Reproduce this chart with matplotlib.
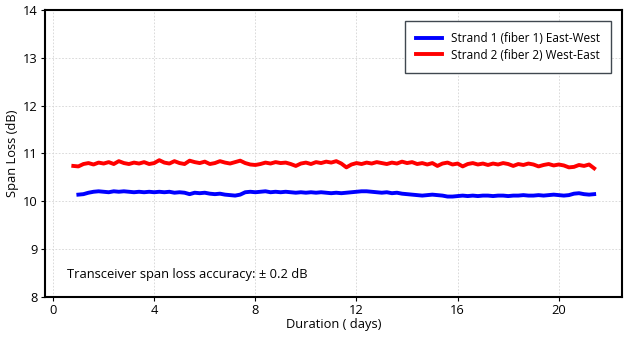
import numpy as np
import matplotlib
matplotlib.use("Agg")
import matplotlib.pyplot as plt

# span loss readings (dB), sampled every ~0.2 day
red_start, red_end = 0.8, 21.4
strand2_loss = [
    10.74, 10.73, 10.78, 10.80, 10.77, 10.81, 10.79, 10.82, 10.78, 10.84,
    10.80, 10.78, 10.81, 10.79, 10.82, 10.78, 10.80, 10.86, 10.81, 10.79,
    10.84, 10.80, 10.78, 10.85, 10.82, 10.80, 10.83, 10.78, 10.80, 10.84,
    10.81, 10.79, 10.82, 10.85, 10.80, 10.77, 10.76, 10.78, 10.81, 10.79,
    10.82, 10.80, 10.81, 10.78, 10.74, 10.79, 10.81, 10.78, 10.82, 10.80,
    10.83, 10.81, 10.84, 10.79, 10.71, 10.77, 10.80, 10.78, 10.81, 10.79,
    10.82, 10.80, 10.78, 10.81, 10.79, 10.83, 10.80, 10.82, 10.78, 10.80,
    10.77, 10.80, 10.74, 10.79, 10.81, 10.77, 10.79, 10.73, 10.78, 10.80,
    10.77, 10.79, 10.76, 10.79, 10.77, 10.80, 10.78, 10.74, 10.78, 10.76,
    10.79, 10.77, 10.73, 10.76, 10.78, 10.75, 10.77, 10.75, 10.71, 10.72,
    10.76, 10.74, 10.77, 10.69,
]

blue_start, blue_end = 1.0, 21.4
strand1_loss = [
    10.14, 10.15, 10.18, 10.20, 10.21, 10.20, 10.19, 10.21, 10.20, 10.21,
    10.20, 10.19, 10.20, 10.19, 10.20, 10.19, 10.20, 10.19, 10.20, 10.18,
    10.19, 10.18, 10.15, 10.18, 10.17, 10.18, 10.16, 10.15, 10.16, 10.14,
    10.13, 10.12, 10.14, 10.19, 10.20, 10.19, 10.20, 10.21, 10.19, 10.20,
    10.19, 10.20, 10.19, 10.18, 10.19, 10.18, 10.19, 10.18, 10.19, 10.18,
    10.17, 10.18, 10.17, 10.18, 10.19, 10.20, 10.21, 10.21, 10.20, 10.19,
    10.18, 10.19, 10.17, 10.18, 10.16, 10.15, 10.14, 10.13, 10.12, 10.13,
    10.14, 10.13, 10.12, 10.10, 10.10, 10.11, 10.12, 10.11, 10.12, 10.11,
    10.12, 10.12, 10.11, 10.12, 10.12, 10.11, 10.12, 10.12, 10.13, 10.12,
    10.12, 10.13, 10.12, 10.13, 10.14, 10.13, 10.12, 10.13, 10.16, 10.17,
    10.15, 10.14, 10.15,
]

labels = ["Strand 1 (fiber 1) East-West", "Strand 2 (fiber 2) West-East"]
x_ticks = [0, 4, 8, 12, 16, 20]
y_ticks = [8, 9, 10, 11, 12, 13, 14]
note = "Transceiver span loss accuracy: \u00b1 0.2 dB"

plt.rcParams['font.family'] = ['Open Sans', 'DejaVu Sans']
FS = 9.3

fig = plt.figure(figsize=(6.31, 3.39), dpi=100)
ax = fig.add_axes([0.0713, 0.1239, 0.9144, 0.8466])

days1 = np.linspace(blue_start, blue_end, len(strand1_loss))
days2 = np.linspace(red_start, red_end, len(strand2_loss))
ax.plot(days1, strand1_loss, color='#0000ff', lw=2.8, label=labels[0])
ax.plot(days2, strand2_loss, color='#ff0000', lw=2.8, label=labels[1])

ax.set_xlim(-0.32, 22.5)
ax.set_ylim(8, 14)
ax.set_xticks(x_ticks)
ax.set_yticks(y_ticks)
ax.tick_params(labelsize=FS, length=3, width=0.8, pad=2)
ax.grid(True, color='#d4d4d4', linestyle=(0, (2, 2)), lw=0.6)
for s in ax.spines.values():
    s.set_linewidth(1.5)
    s.set_color('black')

ax.set_xlabel("Duration ( days)", fontsize=FS, labelpad=1)
ax.set_ylabel("Span Loss (dB)", fontsize=FS, labelpad=3)
ax.text(0.55, 8.48, note, fontsize=FS, va='center')

leg = ax.legend(loc='upper right', bbox_to_anchor=(0.991, 0.983), fontsize=8.5,
                fancybox=False, edgecolor='#404850', framealpha=1,
                handlelength=2.2, handletextpad=0.7, borderpad=0.95,
                labelspacing=0.3)
leg.get_frame().set_linewidth(1.0)

fig.savefig("out.png", dpi=100)
